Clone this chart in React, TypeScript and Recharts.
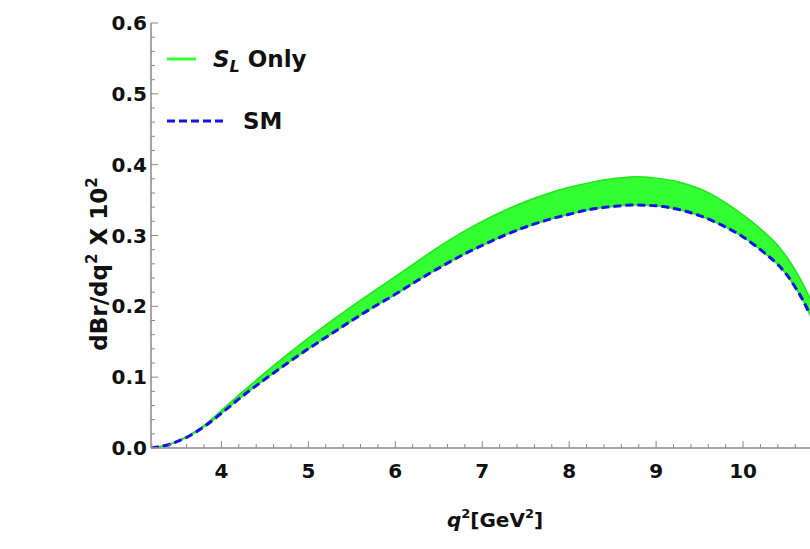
import React from 'react';
import { ComposedChart, Area, Line, XAxis, YAxis, Legend, Label } from 'recharts';

// q^2 grid (GeV^2) and curves
const q2 = [3.19, 3.4, 3.6, 3.8, 4.0, 4.25, 4.5, 4.75, 5.0, 5.25, 5.5, 5.75, 6.0, 6.25, 6.5, 6.75, 7.0, 7.25, 7.5, 7.75, 8.0, 8.25, 8.5, 8.75, 9.0, 9.25, 9.5, 9.75, 10.0, 10.25, 10.4, 10.5, 10.6, 10.7, 10.77];
const smValues = [0, 0.005, 0.015, 0.03, 0.049, 0.074, 0.097, 0.119, 0.14, 0.16, 0.18, 0.199, 0.217, 0.236, 0.254, 0.271, 0.286, 0.3, 0.312, 0.322, 0.33, 0.337, 0.341, 0.343, 0.342, 0.337, 0.328, 0.315, 0.298, 0.275, 0.259, 0.245, 0.227, 0.206, 0.188];
const slUpper = [0, 0.005, 0.016, 0.032, 0.053, 0.08, 0.106, 0.131, 0.155, 0.178, 0.2, 0.221, 0.242, 0.263, 0.284, 0.303, 0.32, 0.335, 0.348, 0.359, 0.368, 0.375, 0.38, 0.383, 0.381, 0.376, 0.366, 0.35, 0.329, 0.304, 0.286, 0.27, 0.251, 0.229, 0.211];

const xTicksBottom = [3.2, 3.4, 3.6, 3.8, 4, 4.2, 4.4, 4.6, 4.8, 5, 5.2, 5.4, 5.6, 5.8, 6, 6.2, 6.4, 6.6, 6.8, 7, 7.2, 7.4, 7.6, 7.8, 8, 8.2, 8.4, 8.6, 8.8, 9, 9.2, 9.4, 9.6, 9.8, 10, 10.2, 10.4, 10.6];
const xTicksTop = [3.5, 4, 4.5, 5, 5.5, 6, 6.5, 7, 7.5, 8, 8.5, 9, 9.5, 10, 10.5];
const yTicks = [0, 0.02, 0.04, 0.06, 0.08, 0.1, 0.12, 0.14, 0.16, 0.18, 0.2, 0.22, 0.24, 0.26, 0.28, 0.3, 0.32, 0.34, 0.36, 0.38, 0.4, 0.42, 0.44, 0.46, 0.48, 0.5, 0.52, 0.54, 0.56, 0.58, 0.6];

const data = q2.map((q, i) => ({ q2: q, sm: smValues[i], band: [smValues[i], slUpper[i]] }));

const FRAME = '#8a8a8a';
const FONT = '"DejaVu Sans", "Liberation Sans", sans-serif';
const GREEN = '#33ff33';
const GREEN_EDGE = '#1fe61f';
const BLUE = '#1414e6';

const isMajor = (v: number, step: number) => Math.abs(v / step - Math.round(v / step)) < 1e-6;

const BottomTick = (props: any) => {
  const { x, y, payload } = props;
  const major = isMajor(payload.value, 1);
  return (
    <g>
      <line x1={x} y1={y} x2={x} y2={y - (major ? 7 : 4)} stroke={FRAME} />
      {major && (
        <text x={x} y={y + 30} textAnchor="middle" fontFamily={FONT} fontWeight="bold" fontSize={20} fill="#111">
          {payload.value}
        </text>
      )}
    </g>
  );
};

const TopTick = (props: any) => {
  const { x, y, payload } = props;
  const major = isMajor(payload.value, 1);
  return <line x1={x} y1={y} x2={x} y2={y + (major ? 7 : 4)} stroke={major ? '#b0b0b0' : FRAME} strokeWidth={major ? 2 : 1} />;
};

const LeftTick = (props: any) => {
  const { x, y, payload } = props;
  const major = isMajor(payload.value, 0.1);
  return (
    <g>
      <line x1={x} y1={y} x2={x + (major ? 7 : 4)} y2={y} stroke={FRAME} />
      {major && (
        <text x={x - 4} y={y + 7} textAnchor="end" fontFamily={FONT} fontWeight="bold" fontSize={20} fill="#111">
          {payload.value.toFixed(1)}
        </text>
      )}
    </g>
  );
};

// the frame runs on past the window edge, so the title sits right of the visible centre
const XTitle = (props: any) => {
  const { y } = props.viewBox;
  return (
    <text x={495} y={y + 79} textAnchor="middle" fontFamily={FONT} fontWeight="bold" fontSize={20} fill="#111">
      <tspan fontStyle="italic">q</tspan>
      <tspan dy={-9} fontSize={13}>2</tspan>
      <tspan dy={9}>[GeV</tspan>
      <tspan dy={-9} fontSize={13}>2</tspan>
      <tspan dy={9}>]</tspan>
    </text>
  );
};

const YTitle = () => {
  const cx = 107;
  const cy = 264;
  return (
    <text x={cx} y={cy} transform={`rotate(-90 ${cx} ${cy})`} textAnchor="middle" fontFamily={FONT} fontWeight="bold" fontSize={23} fill="#111">
      <tspan>dBr/dq</tspan>
      <tspan dy={-10} fontSize={15}>2</tspan>
      <tspan dy={10}> X 10</tspan>
      <tspan dy={-10} fontSize={15}>2</tspan>
    </text>
  );
};

const LegendBox = (props: any) => {
  const items = props.payload || [];
  return (
    <svg width={340} height={150} style={{ display: 'block' }}>
      {items.map((entry: any, i: number) => {
        const dashed = entry.value === 'SM';
        const y = dashed ? 121 : 59;
        return (
          <g key={i}>
            <line
              x1={167}
              x2={dashed ? 225 : 196}
              y1={y}
              y2={y}
              stroke={dashed ? BLUE : GREEN}
              strokeWidth={3}
              strokeDasharray={dashed ? '8 4' : undefined}
            />
            <text x={dashed ? 243 : 213} y={y + 8} fontFamily={FONT} fontWeight="bold" fontSize={23} fill="#111">
              {dashed ? (
                'SM'
              ) : (
                <>
                  <tspan fontStyle="italic">S</tspan>
                  <tspan fontStyle="italic" dy={5} fontSize={16}>L</tspan>
                  <tspan dy={-5}> Only</tspan>
                </>
              )}
            </text>
          </g>
        );
      })}
    </svg>
  );
};

export default function App() {
  return (
    <div style={{ position: 'absolute', left: 0, top: 0, width: 810, height: 549, overflow: 'hidden' }}>
      <ComposedChart width={810} height={549} data={data} margin={{ top: 23, right: 0, left: 91, bottom: 61 }}>
        <XAxis
          dataKey="q2"
          type="number"
          domain={[3.19, 10.77]}
          allowDataOverflow
          ticks={xTicksBottom}
          interval={0}
          tickSize={0}
          tickMargin={0}
          tick={<BottomTick />}
          tickLine={false}
          height={40}
          axisLine={{ stroke: FRAME, strokeWidth: 1.5 }}
        >
          <Label content={<XTitle />} />
        </XAxis>
        <XAxis
          xAxisId="top"
          orientation="top"
          dataKey="q2"
          type="number"
          domain={[3.19, 10.77]}
          allowDataOverflow
          ticks={xTicksTop}
          interval={0}
          tickSize={0}
          tickMargin={0}
          tick={<TopTick />}
          tickLine={false}
          height={0}
          axisLine={{ stroke: FRAME, strokeWidth: 1.5 }}
        />
        <YAxis
          type="number"
          domain={[0, 0.6]}
          allowDataOverflow
          ticks={yTicks}
          interval={0}
          tickSize={0}
          tickMargin={0}
          tick={<LeftTick />}
          tickLine={false}
          width={60}
          axisLine={{ stroke: FRAME, strokeWidth: 1.5 }}
        />
        <Area
          dataKey="band"
          name="S_L Only"
          type="monotone"
          fill={GREEN}
          fillOpacity={1}
          stroke={GREEN_EDGE}
          strokeWidth={1.5}
          isAnimationActive={false}
          dot={false}
          activeDot={false}
        />
        <Line
          dataKey="sm"
          name="SM"
          type="monotone"
          stroke={BLUE}
          strokeWidth={3}
          strokeDasharray="8 4"
          dot={false}
          activeDot={false}
          isAnimationActive={false}
        />
        <Legend
          layout="vertical"
          verticalAlign="middle"
          align="center"
          content={<LegendBox />}
          wrapperStyle={{ position: 'absolute', left: 0, top: 0, width: 340, height: 150 }}
        />
        <YTitle />
      </ComposedChart>
    </div>
  );
}
